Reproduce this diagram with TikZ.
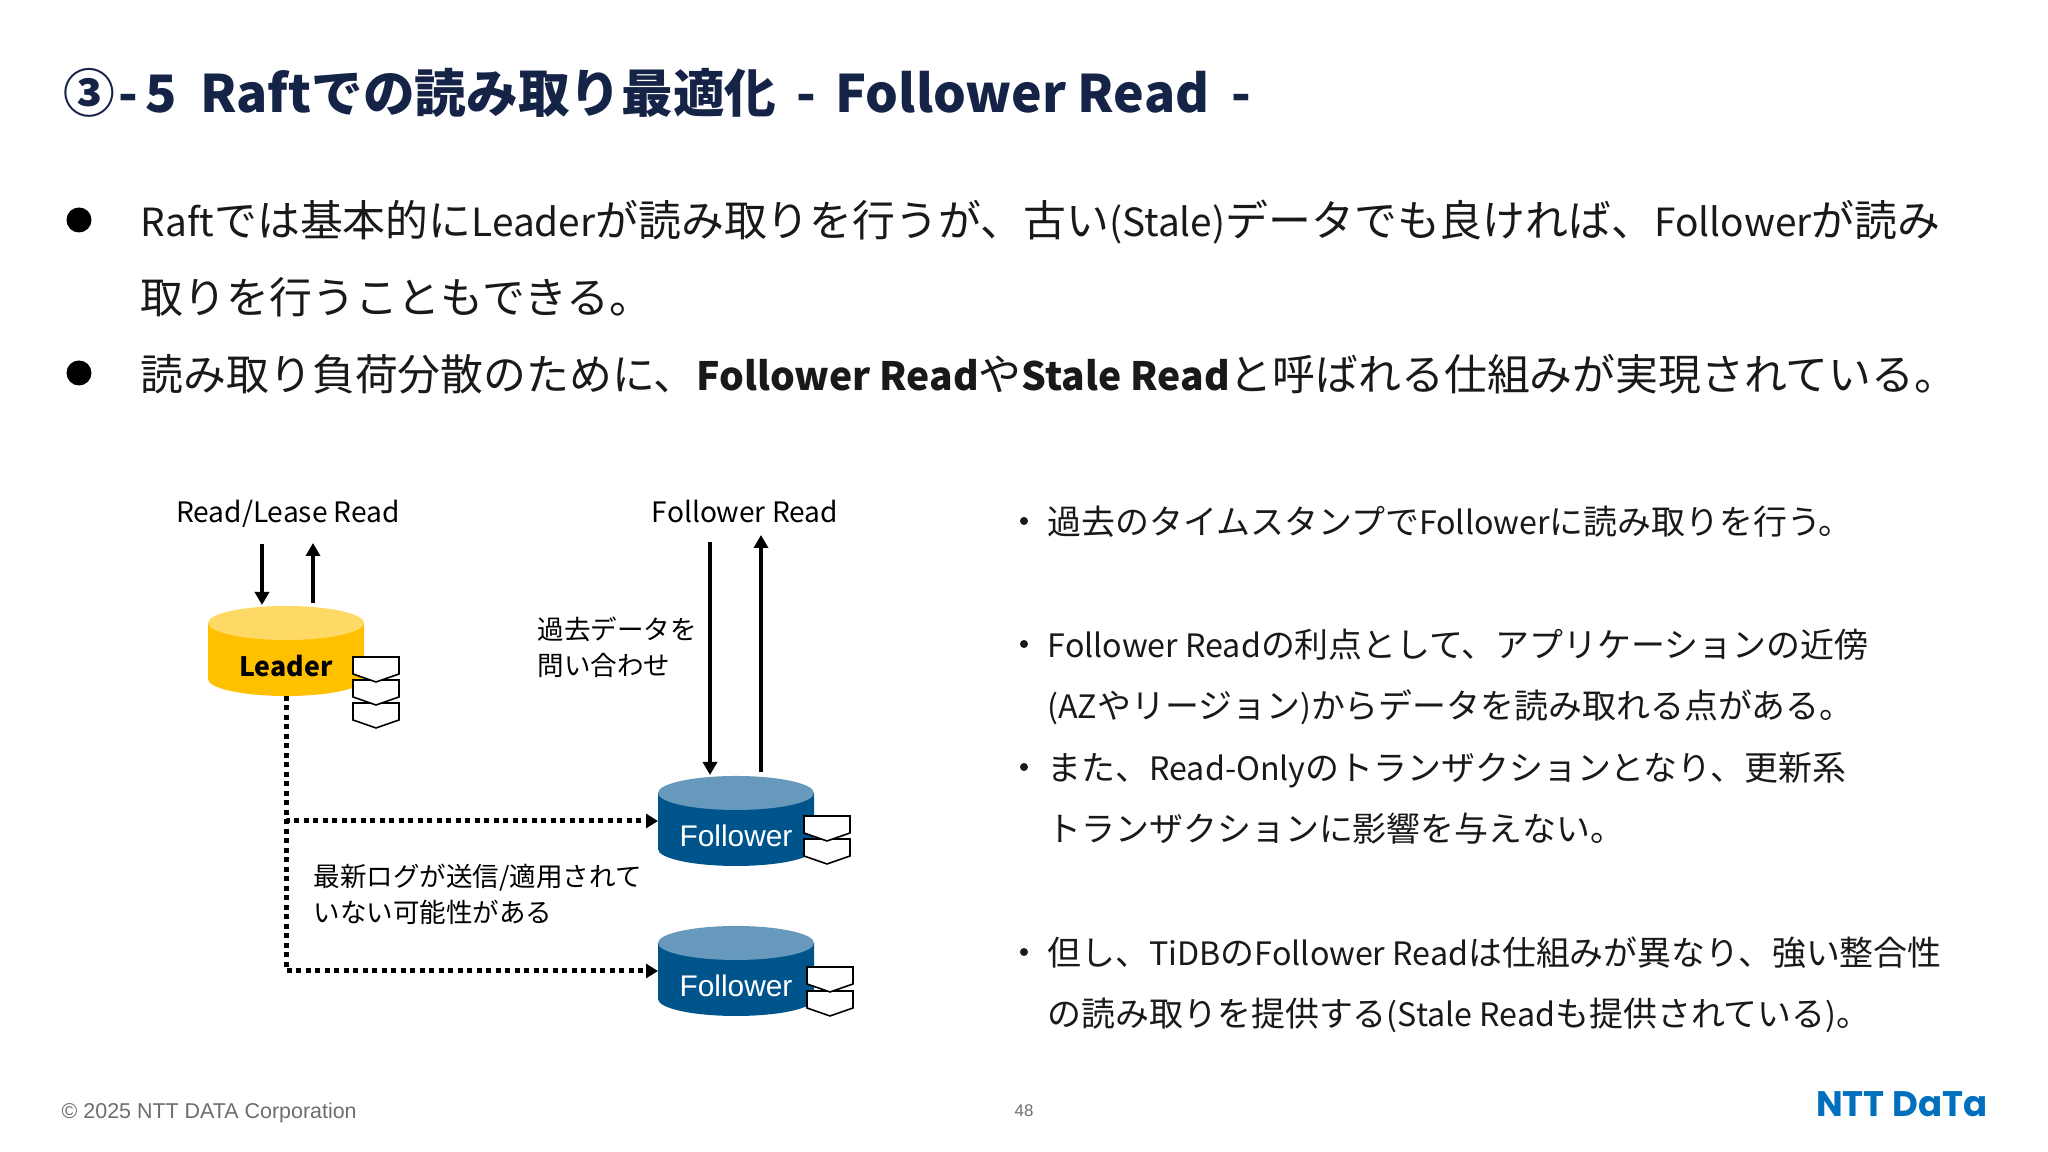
\documentclass[tikz,border=0pt]{standalone}
\usepackage{fontspec}
\setmainfont{Noto Sans CJK JP}
\newfontfamily\footfont{Liberation Sans}
\newfontfamily\logofont{Poppins}
\usetikzlibrary{arrows.meta, positioning}
\definecolor{titlenavy}{RGB}{20,35,70}
\definecolor{bodyblack}{RGB}{25,25,25}
\definecolor{footgray}{RGB}{110,110,110}
\definecolor{leaderbody}{RGB}{255,192,0}
\definecolor{leadertop}{RGB}{255,217,102}
\definecolor{followerbody}{RGB}{0,84,140}
\definecolor{followertop}{RGB}{102,153,187}
\definecolor{logoblue}{RGB}{0,112,190}
\tikzset{
    bodyline/.style={anchor=west, inner sep=0pt, text height=0.8em, text depth=0.2em, text=bodyblack, font=\fontsize{12.2pt}{14pt}\selectfont},
    listline/.style={anchor=west, inner sep=0pt, text height=0.8em, text depth=0.2em, text=bodyblack, font=\fontsize{9.65pt}{11pt}\selectfont},
    noteline/.style={anchor=west, inner sep=0pt, text height=0.8em, text depth=0.2em, text=black, font=\fontsize{7.55pt}{9pt}\selectfont},
    readlabelstyle/.style={inner sep=0pt, text height=0.8em, text depth=0.2em, text=black, font=\fontsize{8pt}{9pt}\selectfont},
    bigdot/.style={circle, fill=black, inner sep=0pt, minimum size=0.25cm},
    smalldot/.style={circle, fill=bodyblack, inner sep=0pt, minimum size=0.08cm},
    dbshape/.style={rectangle, minimum width=1.56cm, minimum height=0.90cm, inner sep=0pt, outer sep=0pt},
    readarrow/.style={-{Triangle[length=0.13cm,width=0.14cm]}, line width=0.04cm, black},
    logline/.style={-{Triangle[length=0.12cm,width=0.14cm]}, line width=0.05cm, dash pattern=on 0.05cm off 0.045cm, black},
    logblock/.style={draw=black, fill=white, line width=0.016cm, line join=miter}
}
\newcommand{\lat}[1]{{\addfontfeature{Scale=0.905}#1}}
\newcommand{\latb}[1]{{\addfontfeature{Scale=0.91}\bfseries #1}}
\newcommand{\latl}[1]{{\addfontfeature{Scale=0.95}#1}}
\newcommand{\logbox}[2]{\draw[logblock] (#1,#2) -- ++(0.46,0) -- ++(0,-0.17) -- ++(-0.23,-0.08) -- ++(-0.23,0.08) -- cycle;}
\newcommand{\dbfill}[3]{
    \fill[#2] ([yshift=-0.17cm]#1.north west) -- ([yshift=0.17cm]#1.south west) arc[start angle=180, end angle=360, x radius=0.78cm, y radius=0.17cm] -- ([yshift=-0.17cm]#1.north east) -- cycle;
    \fill[#3] ([yshift=-0.17cm]#1.north) ellipse[x radius=0.78cm, y radius=0.17cm];
}
\begin{document}
\begin{tikzpicture}

\useasboundingbox (0,0) rectangle (20.48,11.52);
\fill[white] (0,0) rectangle (20.48,11.52);

% Title
\node[anchor=west, inner sep=0pt, text=titlenavy, font=\fontsize{14.7pt}{18pt}\selectfont\bfseries] (title) at (0.63,10.59) {③\kern.03cm-\kern.07cm5\kern.24cm Raftでの読み取り最適化\kern.08cm\ -\ \kern.08cm Follower Read\kern.10cm\ -};

% Main bullets
\node[bigdot] (dotone) at (0.79,9.32) {};
\node[bodyline] (bodyone) at (1.40,9.265) {\lat{Raft}では基本的に\lat{Leader}が読み取りを行うが、古い\lat{(Stale)}データでも良ければ、\lat{Follower}が読み};
\node[bodyline] (bodytwo) at (1.40,8.495) {取りを行うこともできる。};
\node[bigdot] (dottwo) at (0.79,7.79) {};
\node[bodyline] (bodythree) at (1.40,7.725) {読み取り負荷分散のために、\latb{Follower Read}や\latb{Stale Read}と呼ばれる仕組みが実現されている。};

% Read labels
\node[readlabelstyle] (readlabel) at (2.88,6.40) {Read/Lease Read};
\node[readlabelstyle] (followerlabel) at (7.45,6.40) {Follower Read};

% Databases
\node[dbshape] (leader) at (2.86,5.01) {};
\node[dbshape] (followerone) at (7.36,3.31) {};
\node[dbshape] (followertwo) at (7.36,1.81) {};
\dbfill{leader}{leaderbody}{leadertop}
\dbfill{followerone}{followerbody}{followertop}
\dbfill{followertwo}{followerbody}{followertop}
\node[inner sep=0pt, font=\fontsize{7.6pt}{9pt}\selectfont\bfseries, text=black] (leadername) at (2.86,4.86) {Leader};
\node[inner sep=0pt, font=\fontsize{8.5pt}{9pt}\selectfont\footfont, text=white] (followernameone) at (7.36,3.16) {Follower};
\node[inner sep=0pt, font=\fontsize{8.5pt}{9pt}\selectfont\footfont, text=white] (followernametwo) at (7.36,1.66) {Follower};

% Log blocks
\logbox{3.53}{4.49}
\logbox{3.53}{4.72}
\logbox{3.53}{4.95}
\logbox{8.04}{3.13}
\logbox{8.04}{3.36}
\logbox{8.07}{1.61}
\logbox{8.07}{1.85}

% Read arrows
\coordinate (leaderintop) at (2.62,6.08);
\coordinate (leaderinend) at (2.62,5.47);
\coordinate (leaderoutend) at (3.13,5.49);
\coordinate (leaderouttop) at (3.13,6.09);
\coordinate (followerintop) at (7.10,6.10);
\coordinate (followerinend) at (7.10,3.77);
\coordinate (followeroutend) at (7.61,3.80);
\coordinate (followerouttop) at (7.61,6.17);
\draw[readarrow] (leaderintop) -- (leaderinend);
\draw[readarrow] (leaderoutend) -- (leaderouttop);
\draw[readarrow] (followerintop) -- (followerinend);
\draw[readarrow] (followeroutend) -- (followerouttop);

% Log shipping
\draw[logline] (leader.south) |- (followerone.west);
\draw[logline] (leader.south) |- (followertwo.west);

% Notes
\node[noteline] (pastone) at (5.37,5.23) {過去データを};
\node[noteline] (pasttwo) at (5.37,4.87) {問い合わせ};
\node[noteline] (latestone) at (3.13,2.76) {最新ログが送信/適用されて};
\node[noteline] (latesttwo) at (3.13,2.40) {いない可能性がある};

% Right list
\node[smalldot] (itemdotone) at (10.24,6.31) {};
\node[listline] (itemone) at (10.47,6.28) {過去のタイムスタンプで\latl{Follower}に読み取りを行う。};
\node[smalldot] (itemdottwo) at (10.24,5.08) {};
\node[listline] (itemtwo) at (10.47,5.05) {\latl{Follower Read}の利点として、アプリケーションの近傍};
\node[listline] (itemtwob) at (10.47,4.44) {\latl{(AZ}やリージョン\latl{)}からデータを読み取れる点がある。};
\node[smalldot] (itemdotthree) at (10.24,3.85) {};
\node[listline] (itemthree) at (10.47,3.82) {また、\latl{Read-Only}のトランザクションとなり、更新系};
\node[listline] (itemthreeb) at (10.47,3.21) {トランザクションに影響を与えない。};
\node[smalldot] (itemdotfour) at (10.24,2.00) {};
\node[listline] (itemfour) at (10.47,1.97) {但し、\latl{TiDB}の\latl{Follower Read}は仕組みが異なり、強い整合性};
\node[listline] (itemfourb) at (10.47,1.36) {の読み取りを提供する\latl{(Stale Read}も提供されている\latl{)}。};

% Footer
\node[anchor=west, inner sep=0pt, text=footgray, font=\fontsize{6.1pt}{8pt}\selectfont\footfont] (copyright) at (0.61,0.39) {© 2025 NTT DATA Corporation};
\node[inner sep=0pt, text=footgray, font=\fontsize{4.8pt}{6pt}\selectfont\footfont] (pagenum) at (10.24,0.41) {48};
\node[anchor=east, inner sep=0pt, text=logoblue, font=\fontsize{10.1pt}{12pt}\selectfont\logofont\bfseries] (logo) at (19.88,0.48) {NTT DaTa};

\end{tikzpicture}
\end{document}
